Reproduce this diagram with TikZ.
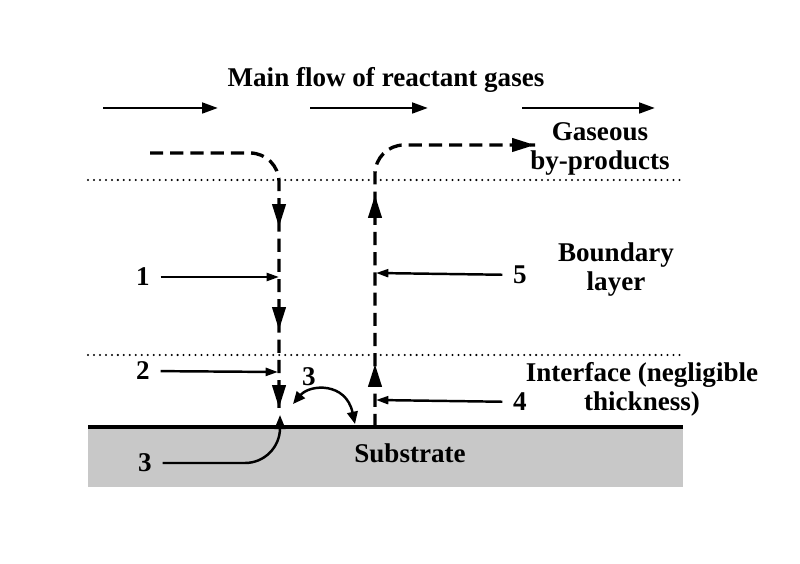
\documentclass[tikz,border=0pt]{standalone}
\usepackage{fontspec}
\setmainfont{Liberation Serif}
\usetikzlibrary{arrows.meta,decorations.markings}
\definecolor{substrategray}{RGB}{200,200,200}

\begin{document}
\begin{tikzpicture}[x=0.2mm,y=-0.2mm, % one unit is one pixel of the 800x564 frame
big_text/.style={font=\bfseries\fontsize{15.4}{16.5}\selectfont, align=center, inner sep=0pt},
num/.style={font=\bfseries\fontsize{15.4}{16.5}\selectfont, inner sep=6pt},
flow_arrow/.style={-{Triangle[length=9pt,width=6pt]}, line width=1.6pt},
small_arrow/.style={-{Triangle[length=7pt,width=4.5pt]}, line width=1.4pt},
curved_arrow/.style={{Triangle[length=7pt,width=6pt]}-{Triangle[length=7pt,width=6pt]}, line width=1.4pt},
rise_arrow/.style={-{Triangle[length=8pt,width=6pt]}, line width=1.4pt, rounded corners=7mm},
dash_path/.style={line width=1.9pt, dash pattern=on 7.5pt off 4pt, rounded corners=5.8mm},
layer_line/.style={line width=1.3pt, line cap=round, dash pattern=on 0pt off 3.4pt}
]
\useasboundingbox (0,0) rectangle (800,564);

% substrate and the two layer limits
\fill[substrategray] (88,427) rectangle (683,487);
\draw[line width=2.2pt] (88,427) -- (683,427);
\draw[layer_line] (88,180) -- (683,180);
\draw[layer_line] (88,355) -- (683,355);

% texts
\node[big_text](main_flow) at (386,80) {Main flow of reactant gases};
\node[big_text](by_products) at (600,149) {Gaseous\\by-products};
\node[big_text](boundary) at (616,270) {Boundary\\layer};
\node[big_text](interface) at (642,389) {Interface (negligible\\thickness)};
\node[big_text](substrate) at (410,453) {Substrate};

\node[num](lbl1) at (143,277) {1};
\node[num](lbl2) at (143,371) {2};
\node[num](lbl3a) at (309,377) {3};
\node[num](lbl3b) at (145,463) {3};
\node[num](lbl4) at (520,402) {4};
\node[num](lbl5) at (520,275) {5};

% points on the gas paths
\coordinate (feed_start) at (150,153);
\coordinate (feed_end) at (279,408);
\coordinate (out_start) at (375,427);
\coordinate (out_end) at (535,145);
\coordinate (in1) at (279,277);
\coordinate (in2) at (278,372);
\coordinate (in4) at (376,400);
\coordinate (in5) at (376,273);
\coordinate (hop_a) at (293,404);
\coordinate (hop_b) at (355,424);
\coordinate (rise) at (280,415);

% main flow of gases
\foreach \i/\a/\b in {1/103/218, 2/310/428, 3/522/655}{
  \coordinate (flow\i s) at (\a,108);
  \coordinate (flow\i e) at (\b,108);
  \draw[flow_arrow](flow\i s) -- (flow\i e);
}

% reactants going down, by-products going up
\draw[dash_path, postaction={decorate}, decoration={markings,
  mark=at position -36.2mm with {\arrow{Triangle[length=13pt,width=7.5pt]}},
  mark=at position -15.6mm with {\arrow{Triangle[length=13pt,width=7.5pt]}},
  mark=at position 1 with {\arrow{Triangle[length=13pt,width=7.5pt]}}}]
  (feed_start) -| (feed_end);
\draw[dash_path, postaction={decorate}, decoration={markings,
  mark=at position 12.6mm with {\arrow{Triangle[length=13pt,width=7.5pt]}},
  mark=at position 46.4mm with {\arrow{Triangle[length=13pt,width=7.5pt]}},
  mark=at position 1 with {\arrow{Triangle[length=13pt,width=7.5pt]}}}]
  (out_start) |- (out_end);

% numbered steps
\draw[small_arrow](lbl1) -- (in1);
\draw[small_arrow](lbl2) -- (in2);
\draw[small_arrow](lbl4) -- (in4);
\draw[small_arrow](lbl5) -- (in5);
\draw[curved_arrow](hop_a) .. controls (310,384) and (346,382) .. (hop_b);
\draw[rise_arrow](lbl3b) -| (rise);

\end{tikzpicture}
\end{document}
